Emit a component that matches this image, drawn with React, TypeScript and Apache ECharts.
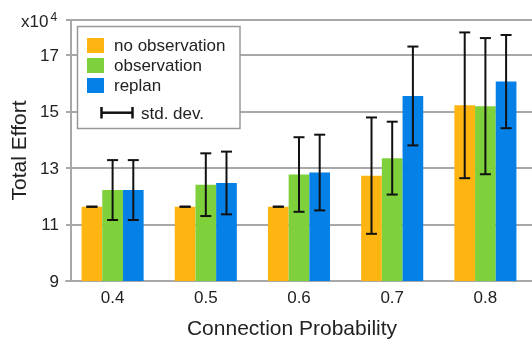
import React, { useEffect, useRef } from "react";
import * as echarts from "echarts";

const categories = ["0.4", "0.5", "0.6", "0.7", "0.8"];
const seriesNames = ["no observation", "observation", "replan"];
const noObsMean = [11.63, 11.63, 11.63, 12.73, 15.22];
const noObsStd = [0, 0, 0, 2.06, 2.58];
const obsMean = [12.22, 12.41, 12.77, 13.35, 15.19];
const obsStd = [1.06, 1.11, 1.32, 1.29, 2.41];
const replanMean = [12.22, 12.47, 12.84, 15.55, 16.06];
const replanStd = [1.06, 1.11, 1.34, 1.75, 1.65];
const yTicks = [9, 11, 13, 15, 17];
const colors = ["#FFB511", "#7ED13B", "#0580E6"];

const FONT = "Liberation Sans, Arial, sans-serif";
const GRID_COLOR = "#a8a8a8";
const TEXT_COLOR = "#222";

export default function App() {
  const ref = useRef<HTMLDivElement>(null);
  useEffect(() => {
    if (!ref.current) return;
    const chart = echarts.init(ref.current, null, { renderer: "svg" });
    const means = [noObsMean, obsMean, replanMean];
    const stds = [noObsStd, obsStd, replanStd];
    const errData: number[][] = [];
    for (let s = 0; s < 3; s++) {
      for (let i = 0; i < categories.length; i++) {
        errData.push([i, s, means[s][i] - stds[s][i], means[s][i] + stds[s][i]]);
      }
    }
    const gapPct = 0.334;
    chart.setOption({
      animation: false,
      textStyle: { fontFamily: FONT },
      grid: { left: 65, top: 20, width: 468, height: 261, containLabel: false },
      xAxis: {
        type: "category",
        data: categories,
        name: "Connection Probability",
        nameLocation: "middle",
        nameGap: 36,
        nameTextStyle: { fontSize: 21, color: TEXT_COLOR, fontFamily: FONT, padding: [0, 14, 0, 0] },
        axisLine: { show: true, lineStyle: { color: GRID_COLOR, width: 2 } },
        axisTick: { show: false },
        axisLabel: { fontSize: 17, color: TEXT_COLOR, margin: 8, fontFamily: FONT },
        splitLine: { show: false },
      },
      yAxis: {
        type: "value",
        min: yTicks[0],
        max: 18.24,
        interval: 2,
        offset: -5,
        name: "Total Effort",
        nameLocation: "middle",
        nameGap: 42,
        nameTextStyle: { fontSize: 21, color: TEXT_COLOR, fontFamily: FONT },
        axisLine: { show: true, lineStyle: { color: GRID_COLOR, width: 2 } },
        axisTick: { show: false },
        axisLabel: {
          fontSize: 17,
          color: TEXT_COLOR,
          margin: 12,
          fontFamily: FONT,
          formatter: (v: number) => (yTicks.indexOf(v) >= 0 ? String(v) : ""),
        },
        splitLine: { show: true, lineStyle: { color: GRID_COLOR, width: 2 } },
      },
      legend: {
        data: seriesNames,
        orient: "vertical",
        left: 87,
        top: 37,
        padding: 0,
        itemWidth: 17,
        itemHeight: 15,
        itemGap: 3,
        itemStyle: { borderWidth: 0 },
        icon: "rect",
        z: 20,
        textStyle: { fontSize: 17, lineHeight: 15, color: TEXT_COLOR, fontFamily: FONT, padding: [0, 0, 0, 5] },
        selectedMode: false,
      },
      graphic: [
        {
          type: "rect",
          z: 10,
          shape: { x: 77.5, y: 26.5, width: 162.5, height: 102 },
          style: { fill: "#fff", stroke: "#999", lineWidth: 1.5 },
        },
        {
          type: "line",
          z: 21,
          shape: { x1: 101, y1: 112.7, x2: 133, y2: 112.7 },
          style: { stroke: "#111", lineWidth: 2.5 },
        },
        {
          type: "line",
          z: 21,
          shape: { x1: 101.5, y1: 107, x2: 101.5, y2: 118.5 },
          style: { stroke: "#111", lineWidth: 2.5 },
        },
        {
          type: "line",
          z: 21,
          shape: { x1: 132.5, y1: 107, x2: 132.5, y2: 118.5 },
          style: { stroke: "#111", lineWidth: 2.5 },
        },
        {
          type: "text",
          z: 21,
          x: 141,
          y: 113,
          style: { text: "std. dev.", fontSize: 17, fill: TEXT_COLOR, fontFamily: FONT, verticalAlign: "middle", align: "left" },
        },
        {
          type: "text",
          z: 21,
          x: 21,
          y: 30,
          style: { text: "x10", fontSize: 17, fill: TEXT_COLOR, fontFamily: FONT, verticalAlign: "bottom", align: "left" },
        },
        {
          type: "text",
          z: 21,
          x: 50.5,
          y: 23,
          style: { text: "4", fontSize: 12, fill: TEXT_COLOR, fontFamily: FONT, verticalAlign: "bottom", align: "left" },
        },
      ],
      series: [
        ...seriesNames.map((name, s) => ({
          name,
          type: "bar",
          data: means[s],
          barGap: "0%",
          barCategoryGap: gapPct * 100 + "%",
          itemStyle: { color: colors[s] },
          z: 2,
        })),
        {
          name: "std. dev.",
          type: "custom",
          z: 5,
          data: errData,
          encode: { x: 0, y: [2, 3] },
          renderItem: (params: any, api: any) => {
            const cat = api.value(0);
            const s = api.value(1);
            const lo = api.value(2);
            const hi = api.value(3);
            const band = api.size([1, 0])[0];
            const barW = (band * (1 - gapPct)) / 3;
            const pLo = api.coord([cat, lo]);
            const pHi = api.coord([cat, hi]);
            const x = pLo[0] + (s - 1) * barW;
            const half = 5.5;
            const st = { stroke: "#111", lineWidth: 2 };
            return {
              type: "group",
              children: [
                { type: "line", shape: { x1: x, y1: pLo[1], x2: x, y2: pHi[1] }, style: st },
                { type: "line", shape: { x1: x - half, y1: pHi[1], x2: x + half, y2: pHi[1] }, style: st },
                { type: "line", shape: { x1: x - half, y1: pLo[1], x2: x + half, y2: pLo[1] }, style: st },
              ],
            };
          },
        },
      ],
    });
    return () => chart.dispose();
  }, []);
  return <div ref={ref} style={{ position: "fixed", left: 0, top: 0, width: 532, height: 345 }} />;
}
